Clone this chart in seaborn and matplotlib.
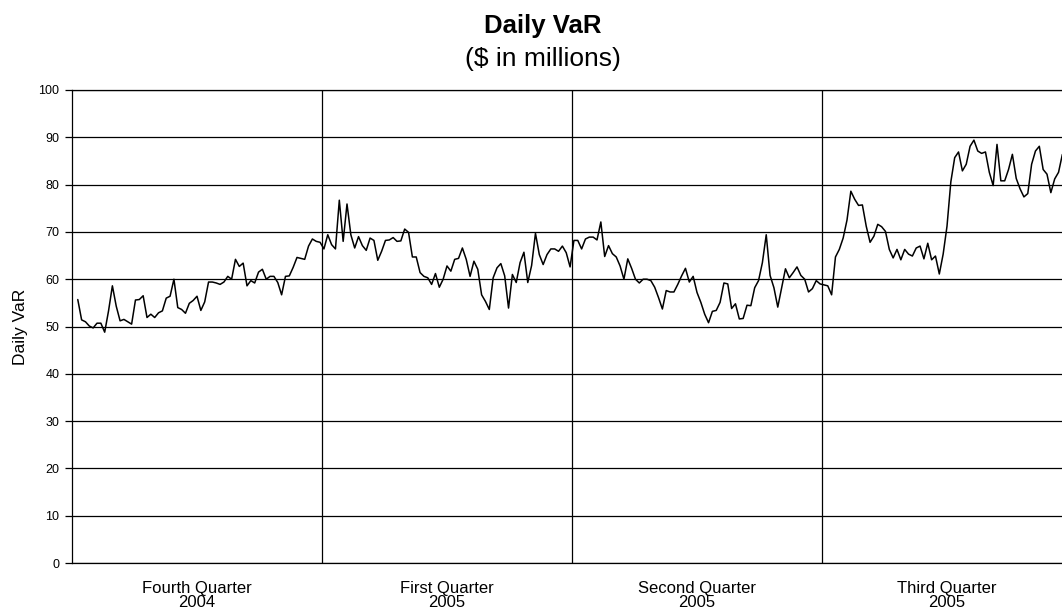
import numpy as np
import pandas as pd
import matplotlib
matplotlib.use("Agg")
import matplotlib.pyplot as plt
import seaborn as sns

# ==============================
# Data ($ millions)
# ==============================
quarters = ["Fourth Quarter\n2004", "First Quarter\n2005",
            "Second Quarter\n2005", "Third Quarter\n2005"]

q4_2004 = [55.7, 51.4, 51.0, 50.1, 49.7, 50.7, 50.7, 48.8, 53.3, 58.6,
           54.3, 51.2, 51.5, 51.0, 50.5, 55.6, 55.7, 56.5, 51.9, 52.6,
           51.9, 52.9, 53.3, 56.0, 56.4, 60.0, 54.0, 53.6, 52.8, 54.9,
           55.5, 56.4, 53.4, 55.2, 59.4, 59.4, 59.2, 58.9, 59.4, 60.6,
           60.0, 64.2, 62.7, 63.4, 58.6, 59.7, 59.2, 61.5, 62.1, 60.0,
           60.6, 60.6, 59.3, 56.7, 60.6, 60.7, 62.5, 64.6, 64.4, 64.2,
           67.0, 68.5, 68.0, 67.8]

q1_2005 = [66.4, 69.4, 67.3, 66.4, 76.7, 68.0, 75.9, 69.4, 66.6, 69.0,
           67.1, 66.1, 68.7, 68.2, 64.0, 65.9, 68.2, 68.3, 68.8, 68.0,
           68.1, 70.6, 69.9, 64.7, 64.7, 61.4, 60.6, 60.3, 58.9, 61.2,
           58.3, 60.0, 62.8, 61.7, 64.2, 64.4, 66.6, 64.2, 60.6, 63.8,
           62.1, 56.7, 55.3, 53.6, 60.3, 62.4, 63.3, 60.7, 53.9, 61.0,
           59.3, 63.5, 65.7, 59.3, 62.9, 69.7, 65.2, 63.1, 65.2, 66.4,
           66.4, 65.9, 67.0, 65.6, 62.6]

q2_2005 = [68.2, 68.2, 66.4, 68.5, 68.9, 68.9, 68.3, 72.1, 64.8, 67.1,
           65.4, 64.7, 62.8, 60.0, 64.3, 62.3, 60.0, 59.2, 60.0, 60.0,
           59.7, 58.3, 56.1, 53.7, 57.6, 57.3, 57.3, 58.9, 60.7, 62.3,
           59.4, 60.6, 57.2, 55.1, 52.6, 50.8, 53.2, 53.4, 55.1, 59.2,
           59.0, 53.8, 54.8, 51.6, 51.7, 54.5, 54.4, 58.2, 59.7, 63.5,
           69.4, 60.8, 58.2, 54.1, 58.2, 62.2, 60.3, 61.4, 62.6, 60.8,
           60.0, 57.3, 58.0, 59.7, 59.0]

q3_2005 = [58.8, 58.6, 56.7, 64.7, 66.3, 68.7, 72.5, 78.6, 76.9, 75.6,
           75.7, 71.2, 67.8, 69.1, 71.6, 71.1, 70.1, 66.3, 64.5, 66.3,
           64.1, 66.3, 65.3, 64.9, 66.6, 67.0, 64.3, 67.6, 64.1, 64.9,
           61.1, 65.3, 71.2, 80.6, 85.7, 86.9, 82.9, 84.3, 88.1, 89.4,
           87.1, 86.6, 86.9, 82.6, 79.8, 88.5, 80.8, 80.8, 83.2, 86.4,
           81.3, 79.1, 77.4, 78.1, 84.3, 87.1, 88.1, 83.2, 82.2, 78.3,
           81.2, 82.6, 86.4]

series = [q4_2004, q1_2005, q2_2005, q3_2005]
q_len = [len(s) for s in series]
values = np.concatenate(series)
df = pd.DataFrame({"day": np.arange(len(values)), "var": values})

# quarter boundaries in day units (dividers sit between trading days)
ends = np.cumsum(q_len) - 0.5
bounds = np.concatenate([[-1.5], ends[:-1], [ends[-2] + 65]])
centers = (bounds[:-1] + bounds[1:]) / 2

# ==============================
# Plot
# ==============================
sns.set_style("white")
plt.rcParams["font.family"] = ["Liberation Sans", "DejaVu Sans"]
plt.rcParams["text.color"] = "black"
plt.rcParams["axes.labelcolor"] = "black"
plt.rcParams["xtick.color"] = "black"
plt.rcParams["ytick.color"] = "black"

fig = plt.figure(figsize=(10.62, 6.13), dpi=100)
ax = fig.add_axes([72 / 1062, 50 / 613, 1000 / 1062, 473 / 613])

sns.lineplot(data=df, x="day", y="var", color="black", linewidth=1.1, ax=ax)

for b in ends[:-1]:
    ax.axvline(b, color="black", linewidth=0.9)

ax.set_xlim(bounds[0], bounds[-1])
ax.set_ylim(0, 100)
ax.set_yticks(np.arange(0, 101, 10))
ax.yaxis.grid(True, color="black", linewidth=0.9)
ax.set_axisbelow(True)

ax.set_xticks(centers)
ax.set_xticklabels(quarters, fontsize=12, linespacing=0.95)
ax.tick_params(axis="x", length=0, pad=13)
ax.tick_params(axis="y", left=True, length=5, width=0.9, direction="out",
               labelsize=9, pad=4, color="black")

for side in ["left", "top", "bottom", "right"]:
    ax.spines[side].set_color("black")
    ax.spines[side].set_linewidth(0.9)

ax.set_xlabel("")
ax.set_ylabel("Daily VaR", fontsize=12.5)
ax.yaxis.set_label_coords(-0.044, 0.5)

fig.text(543 / 1062, 1 - 33 / 613, "Daily VaR", ha="center", va="baseline",
         fontsize=18.5, fontweight="bold", color="black")
fig.text(543 / 1062, 1 - 66 / 613, "($ in millions)", ha="center",
         va="baseline", fontsize=19, color="black")

fig.savefig("out.png", dpi=100)
